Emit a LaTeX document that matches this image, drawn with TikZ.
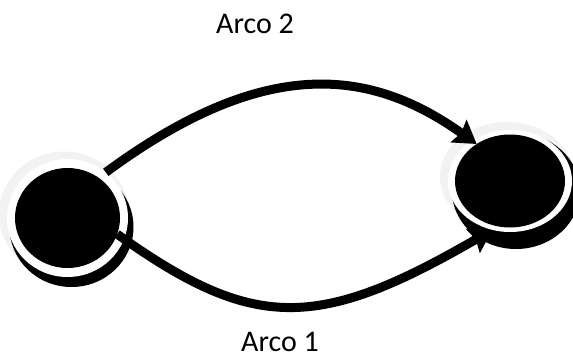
\documentclass[tikz,border=0pt]{standalone}
\usepackage{fontspec}
\setmainfont{Carlito}
\usetikzlibrary{arrows.meta,shapes.geometric}
\begin{document}
\begin{tikzpicture}[x=1pt,y=1pt,
  disc/.style={ellipse, fill=black, inner sep=0pt, outer sep=0pt},
  ringw/.style={ellipse, fill=white, inner sep=0pt, outer sep=0pt},
  shadw/.style={ellipse, fill=black, inner sep=0pt, outer sep=0pt},
  halo/.style={ellipse, fill=black!5, inner sep=0pt, outer sep=0pt},
  conn/.style={line width=9pt, -{Stealth[length=22pt,width=27pt,inset=3pt]}},
  lbl/.style={font=\fontsize{30}{36}\selectfont, anchor=base, inner sep=0pt}]
\useasboundingbox (0,0) rectangle (573,360);
% left state
\node[halo, minimum width=130pt, minimum height=125pt] (Ahalo) at (64,146) {};
\node[shadw, minimum width=124pt, minimum height=120pt] (Ashadow) at (71.5,133) {};
\node[ringw, minimum width=121pt, minimum height=118pt] (Aring) at (67.5,142) {};
\node[disc, minimum width=105pt, minimum height=100pt] (A) at (67.5,142) {};
% right state
\node[halo, minimum width=134pt, minimum height=110pt] (Bhalo) at (507,183) {};
\node[shadw, minimum width=128pt, minimum height=116pt] (Bshadow) at (516,169) {};
\node[ringw, minimum width=124pt, minimum height=102pt] (Bring) at (510,179) {};
\node[disc, minimum width=110pt, minimum height=93pt] (B) at (510,179) {};
% arcs
\draw[conn] (Aring.50) .. controls (265,305) and (370,292) .. (B.132);
\draw[conn] (A.-18) .. controls (253,29) and (317,28.5) .. (Bring.250);
% labels
\node[lbl] (l2) at (255,327) {Arco 2};
\node[lbl] (l1) at (280,9) {Arco 1};
\end{tikzpicture}
\end{document}
